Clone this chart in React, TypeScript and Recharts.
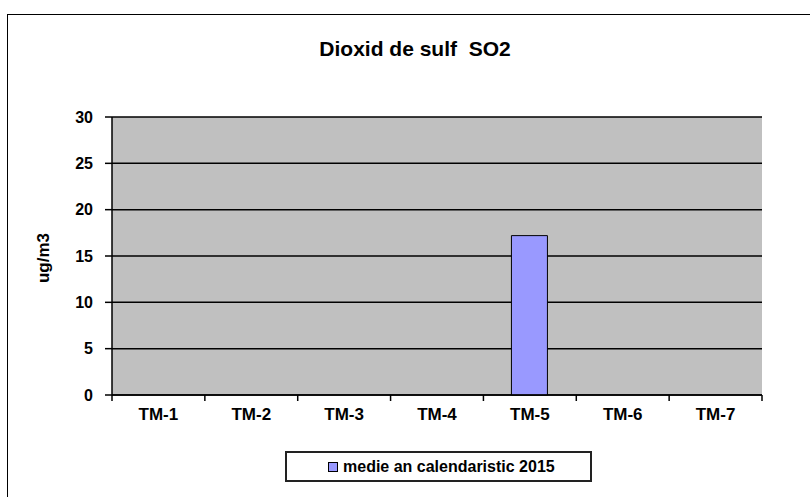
import { BarChart, Bar, XAxis, YAxis, CartesianGrid, Legend, Label } from 'recharts'

const categories = ['TM-1', 'TM-2', 'TM-3', 'TM-4', 'TM-5', 'TM-6', 'TM-7']
const medie2015: (number | null)[] = [null, null, null, null, 17.2, null, null]
const yTicks = [0, 5, 10, 15, 20, 25, 30]

const data = categories.map((name, i) => ({ name, value: medie2015[i] }))

const FONT = 'Arial, "Liberation Sans", sans-serif'
const BAR_COLOR = '#9999FF'

// category label plus Excel-style tick marks on the band edges
function CategoryTick(props: any) {
  const { x, y, payload, index } = props
  const half = payload.offset ?? 0
  const last = index === categories.length - 1
  const axisY = y - 13
  return (
    <g>
      <line x1={x - half} x2={x - half} y1={axisY} y2={axisY + 6} stroke="#000" strokeWidth={1.5} />
      {last && <line x1={x + half} x2={x + half} y1={axisY} y2={axisY + 6} stroke="#000" strokeWidth={1.5} />}
      <text x={x} y={y} dy="0.71em" textAnchor="middle" fontFamily={FONT} fontWeight="bold" fontSize={17} fill="#000">
        {payload.value}
      </text>
    </g>
  )
}

function LegendBox() {
  return (
    <div
      style={{
        width: 307,
        height: 31,
        boxSizing: 'border-box',
        border: '2px solid #222',
        background: '#fff',
        display: 'flex',
        alignItems: 'center',
        paddingLeft: 41,
        fontFamily: FONT,
        fontWeight: 'bold',
        fontSize: 16,
        color: '#000',
      }}
    >
      <span
        style={{
          display: 'inline-block',
          width: 8,
          height: 8,
          background: BAR_COLOR,
          border: '1px solid #000',
          marginRight: 5,
        }}
      />
      medie an calendaristic 2015
    </div>
  )
}

export default function App() {
  return (
    <div style={{ position: 'absolute', left: 0, top: 0, width: 810, height: 497, background: '#fff', overflow: 'hidden' }}>
      {/* outer frame, runs off the right and bottom edges */}
      <div
        style={{
          position: 'absolute',
          left: 7,
          top: 14,
          width: 830,
          height: 520,
          border: '1px solid #000',
        }}
      />
      <div
        style={{
          position: 'absolute',
          left: 0,
          top: 37,
          width: 830,
          textAlign: 'center',
          fontFamily: FONT,
          fontSize: 21,
          fontWeight: 'bold',
          color: '#000',
        }}
      >
        Dioxid de sulf&nbsp; SO2
      </div>
      <div style={{ position: 'absolute', left: 0, top: 0 }}>
        <BarChart
          width={810}
          height={497}
          data={data}
          margin={{ top: 117, right: 48, bottom: 72, left: 52 }}
          barSize={36}
        >
          <CartesianGrid vertical={false} fill="#C0C0C0" stroke="#000" strokeWidth={1.5} fillOpacity={1} yAxisId="l" xAxisId="c" />
          <XAxis
            xAxisId="c"
            dataKey="name"
            height={30}
            tickLine={false}
            axisLine={{ stroke: '#000', strokeWidth: 1.5 }}
            tickSize={6}
            tickMargin={7}
            interval={0}
            tick={<CategoryTick />}
          />
          <XAxis xAxisId="t" orientation="top" dataKey="name" height={0} tick={false} tickLine={false} axisLine={{ stroke: '#808080', strokeWidth: 1.5 }} />
          <YAxis
            yAxisId="l"
            domain={[0, 30]}
            ticks={yTicks}
            width={60}
            tickSize={7}
            tickMargin={12}
            axisLine={{ stroke: '#000', strokeWidth: 1.5 }}
            tickLine={{ stroke: '#000', strokeWidth: 1.5 }}
            tick={{ fill: '#000', fontSize: 16, fontWeight: 'bold', fontFamily: FONT }}
          >
            <Label
              content={({ viewBox }: any) => {
                const x = viewBox.x - 9
                const y = viewBox.y + viewBox.height / 2 + 2
                return (
                  <text
                    x={x}
                    y={y}
                    transform={`rotate(-90 ${x} ${y})`}
                    textAnchor="middle"
                    dominantBaseline="central"
                    fontFamily={FONT}
                    fontWeight="bold"
                    fontSize={17}
                    fill="#000"
                  >
                    ug/m3
                  </text>
                )
              }}
            />
          </YAxis>
          <YAxis yAxisId="r" orientation="right" domain={[0, 30]} width={0} tick={false} tickLine={false} axisLine={{ stroke: '#808080', strokeWidth: 1.5 }} />
          <Bar
            dataKey="value"
            xAxisId="c"
            yAxisId="l"
            fill={BAR_COLOR}
            stroke="#000"
            strokeWidth={1}
            isAnimationActive={false}
          />
          <Legend
            layout="horizontal"
            verticalAlign="middle"
            align="center"
            wrapperStyle={{ top: 451, left: 285, width: 307, height: 31 }}
            content={() => <LegendBox />}
          />
        </BarChart>
      </div>
    </div>
  )
}
